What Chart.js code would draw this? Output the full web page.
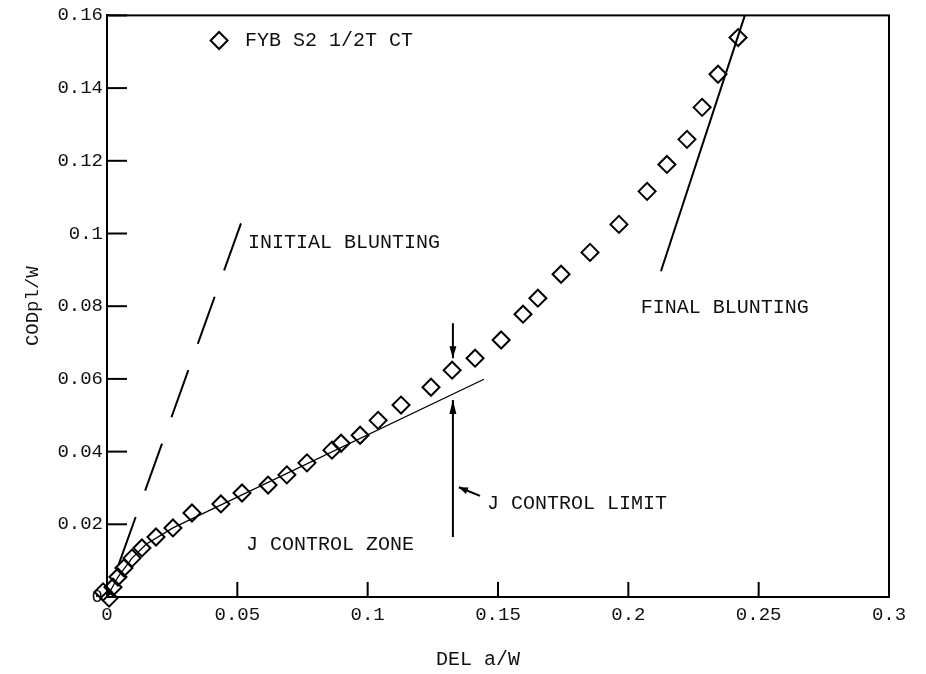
<!DOCTYPE html>
<html><head><meta charset="utf-8">
<script src="https://cdn.jsdelivr.net/npm/chart.js@4/dist/chart.umd.min.js"></script>
<style>html,body{margin:0;padding:0;background:#fff}canvas{display:block}</style>
</head><body>
<canvas id="c" width="926" height="674"></canvas>
<script>
// ---- data ----
const seriesName = 'FYB S2 1/2T CT';
const delA  = [-0.0015,0.0008,0.0023,0.0042,0.0065,0.0096,0.0134,0.0188,0.0253,0.0326,0.0437,0.0518,0.0618,0.0690,0.0767,0.0863,0.0898,0.0971,0.1040,0.1128,0.1243,0.1324,0.1412,0.1512,0.1596,0.1653,0.1742,0.1853,0.1964,0.2072,0.2148,0.2225,0.2283,0.2344,0.2421];
const codPl = [0.0014,-0.0003,0.0027,0.0055,0.0080,0.0107,0.0135,0.0165,0.0190,0.0231,0.0256,0.0286,0.0308,0.0336,0.0369,0.0404,0.0423,0.0445,0.0486,0.0528,0.0577,0.0624,0.0657,0.0707,0.0778,0.0822,0.0888,0.0948,0.1025,0.1116,0.1190,0.1259,0.1347,0.1438,0.1539];

const xTickLabels = ['0','0.05','0.1','0.15','0.2','0.25','0.3'];
const yTickLabels = ['0','0.02','0.04','0.06','0.08','0.1','0.12','0.14','0.16'];
const xAxisTitle = 'DEL a/W';
const yAxisTitle = 'CODpl/W';

const zoneLineX = [0.0000,0.0042,0.0096,0.0150,0.0253,0.1446];
const zoneLineY = [0.0000,0.0055,0.0107,0.0145,0.0190,0.0599];
const initBluntX = [0.0514,0.0000];
const initBluntY = [0.1028,0.0000];
const finalBluntX = [0.2125,0.2447];
const finalBluntY = [0.0896,0.1600];
const limitArrowX = [0.1327,0.1327];
const limitArrowY = [0.0165,0.0542];
const markArrowX = [0.1327,0.1327];
const markArrowY = [0.0753,0.0657];
const labelArrowX = [0.1431,0.1350];
const labelArrowY = [0.0278,0.0302];

const noteText = ['INITIAL BLUNTING','FINAL BLUNTING','J CONTROL LIMIT','J CONTROL ZONE'];
const noteX = [0.0541,0.2048,0.1458,0.0533];
const noteY = [0.0976,0.0795,0.0258,0.0143];
const legendX = [0.0430,0.0529];
const legendY = 0.1531;

const pts = (xs, ys) => xs.map((x, i) => ({x, y: ys[i]}));
const FONT = "'Liberation Mono', 'DejaVu Sans Mono', monospace";
Chart.defaults.font.family = FONT;
Chart.defaults.color = '#111';

const lineDs = (data, extra) => Object.assign({
  data, showLine: true, pointRadius: 0, pointHoverRadius: 0,
  borderColor: '#000', borderWidth: 2, fill: false, clip: false
}, extra);

const decor = {
  id: 'decor',
  beforeDatasetsDraw(chart) {
    const {ctx, chartArea: a, scales: {x, y}} = chart;
    ctx.save();
    ctx.strokeStyle = '#000';
    ctx.lineWidth = 2;
    ctx.strokeRect(a.left, a.top, a.right - a.left, a.bottom - a.top);
    // inward tick marks
    x.ticks.forEach(t => {
      const px = x.getPixelForValue(t.value);
      ctx.beginPath(); ctx.moveTo(px, a.bottom); ctx.lineTo(px, a.bottom - 15); ctx.stroke();
    });
    y.ticks.forEach(t => {
      const py = y.getPixelForValue(t.value);
      ctx.beginPath(); ctx.moveTo(a.left, py); ctx.lineTo(a.left + 20, py); ctx.stroke();
    });
    ctx.restore();
  },
  afterDatasetsDraw(chart) {
    const {ctx, scales: {x, y}} = chart;
    ctx.save();
    // arrow heads
    chart.data.datasets.forEach((ds, i) => {
      if (!ds.arrowHead) return;
      const el = chart.getDatasetMeta(i).data;
      const p0 = el[el.length - 2], p1 = el[el.length - 1];
      const ang = Math.atan2(p1.y - p0.y, p1.x - p0.x);
      const L = ds.arrowHead, W = 3.5;
      ctx.fillStyle = '#000';
      ctx.beginPath();
      ctx.moveTo(p1.x, p1.y);
      ctx.lineTo(p1.x - L * Math.cos(ang) + W * Math.sin(ang), p1.y - L * Math.sin(ang) - W * Math.cos(ang));
      ctx.lineTo(p1.x - L * Math.cos(ang) - W * Math.sin(ang), p1.y - L * Math.sin(ang) + W * Math.cos(ang));
      ctx.closePath(); ctx.fill();
    });
    // annotation texts
    ctx.fillStyle = '#111';
    ctx.font = '20px ' + FONT;
    ctx.textBaseline = 'middle';
    ctx.textAlign = 'left';
    noteText.forEach((t, i) => ctx.fillText(t, x.getPixelForValue(noteX[i]), y.getPixelForValue(noteY[i])));
    // legend (open diamond + series name)
    const lx = x.getPixelForValue(legendX[0]), ly = y.getPixelForValue(legendY);
    const r = 8.5;
    ctx.strokeStyle = '#000'; ctx.lineWidth = 2;
    ctx.beginPath(); ctx.moveTo(lx - r, ly); ctx.lineTo(lx, ly - r); ctx.lineTo(lx + r, ly); ctx.lineTo(lx, ly + r); ctx.closePath(); ctx.stroke();
    ctx.fillText(seriesName, x.getPixelForValue(legendX[1]), ly);
    // x axis title
    ctx.textAlign = 'center';
    ctx.fillText(xAxisTitle, 478, 660);
    ctx.restore();
  }
};

new Chart(document.getElementById('c'), {
  type: 'scatter',
  data: {
    datasets: [
      {label: seriesName, data: pts(delA, codPl), pointStyle: 'rectRot', pointRadius: 8.5, pointHoverRadius: 8.5,
       borderColor: '#000', backgroundColor: 'rgba(0,0,0,0)', pointBorderWidth: 2, borderWidth: 2, clip: false},
      lineDs(pts(zoneLineX, zoneLineY), {label: 'J control zone', borderWidth: 1.3}),
      lineDs(pts(initBluntX, initBluntY), {label: 'Initial blunting', borderDash: [50, 28]}),
      lineDs(pts(finalBluntX, finalBluntY), {label: 'Final blunting'}),
      lineDs(pts(limitArrowX, limitArrowY), {label: 'J control limit', arrowHead: 14}),
      lineDs(pts(markArrowX, markArrowY), {label: 'limit point', arrowHead: 12}),
      lineDs(pts(labelArrowX, labelArrowY), {label: 'label arrow', arrowHead: 9})
    ]
  },
  options: {
    responsive: false, animation: false, devicePixelRatio: 1,
    layout: {padding: {top: 15, right: 37, bottom: 0, left: 0}},
    plugins: {legend: {display: false}, tooltip: {enabled: false}},
    scales: {
      x: {
        type: 'linear', min: 0, max: 0.3,
        afterFit(s) { s.height = 77; },
        grid: {display: false, drawTicks: false},
        border: {display: true, color: '#000', width: 2},
        ticks: {stepSize: 0.05, padding: 7, font: {size: 19}, color: '#111',
                callback: (v, i) => xTickLabels[i]},
        title: {display: false}
      },
      y: {
        type: 'linear', min: 0, max: 0.16,
        afterFit(s) { s.width = 107; },
        grid: {display: false, drawTicks: false},
        border: {display: true, color: '#000', width: 2},
        ticks: {stepSize: 0.02, padding: 4, font: {size: 19}, color: '#111',
                callback: (v, i) => yTickLabels[i]},
        title: {display: true, text: yAxisTitle, font: {size: 19}, color: '#111', padding: {top: 22, bottom: 0}}
      }
    }
  },
  plugins: [decor]
});
</script>
</body></html>
